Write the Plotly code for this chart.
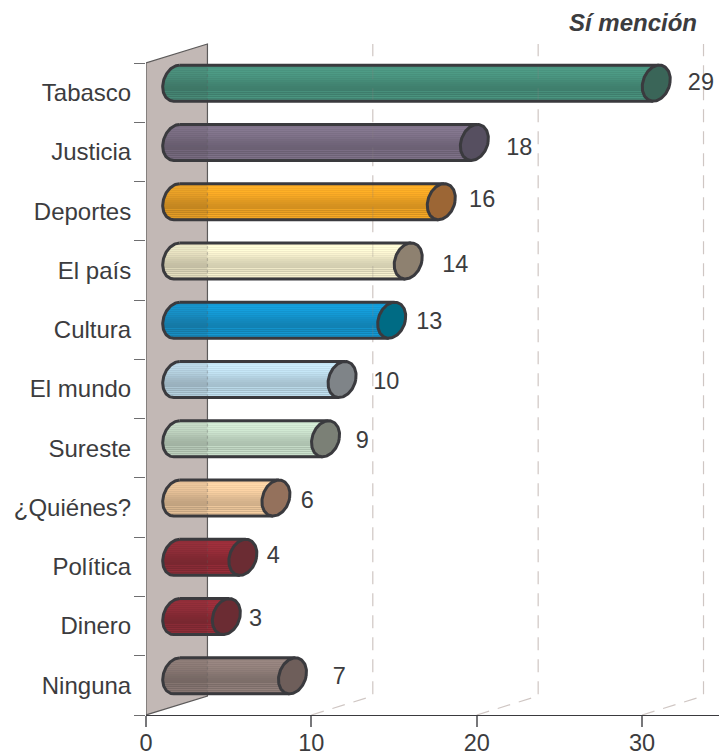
import math
import plotly.graph_objects as go

# ---- data (top to bottom) ----
categories = ["Tabasco", "Justicia", "Deportes", "El país", "Cultura", "El mundo",
              "Sureste", "¿Quiénes?", "Política", "Dinero", "Ninguna"]
values = [29, 18, 16, 14, 13, 10, 9, 6, 4, 3, 7]
body_colors = ["#4a9580", "#7f7289", "#f9aa25", "#f9f3d0", "#1499d4", "#c2e2f2",
               "#cde4cf", "#f7cfa2", "#982d39", "#982d39", "#93817c"]
cap_colors = ["#3a6558", "#564f60", "#9c6635", "#8e8170", "#006b84", "#7f8488",
              "#7b8076", "#94715c", "#6b2c33", "#6b2c33", "#6e5e5a"]
label_dx = [4.56, 4.57, 4.33, 4.70, 4.13, 4.53, 4.08, 3.76, 3.70, 3.62, 4.69]
label_y = [10.64, 9.555, 8.665, 7.565, 6.605, 5.605, 4.60, 3.595, 2.66, 1.595, 0.615]
x_ticks = [0, 10, 20, 30]
title_text = "Sí mención"

# brightness across the cylinder, top to bottom, read from the streaks
shade = [0.94, 0.97, 1.00, 1.02, 1.05, 0.99, 1.05, 0.98, 1.04, 0.97, 1.02, 0.96,
         1.00, 0.94, 0.97, 0.92, 0.93, 0.90, 0.90, 0.88, 0.88, 0.86, 0.86, 0.85,
         0.85, 0.84, 0.96, 0.84, 0.94, 0.84, 0.98, 0.86, 1.00, 0.88, 0.98, 0.86]

# ---- geometry in pixels -> axis units ----
W, H = 719, 754
X0, Y0 = 145.5, 715
PX_X = 16.55        # px per value unit
PX_Y = 652 / 11     # px per row
TOP = 20
DEPTH_X = 61.5 / PX_X
DEPTH_Y = 19 / PX_Y
HALF_H = 18 / PX_Y
A = 13.7 / PX_X
TILT = 3 / PX_X
INK = "#3a3a3e"
TXT = "#3c3c3e"
WALL = "#c2b8b5"
GRID = "#cfc6c3"
FONT = "Liberation Sans"
FS = 23.5
n = len(categories)


def scale(hex_color, m):
    r, g, b = (int(hex_color[i:i + 2], 16) for i in (1, 3, 5))
    return "rgb({},{},{})".format(*(min(255, round(c * m)) for c in (r, g, b)))


shapes = [dict(type="path", layer="below", xref="x", yref="y",
               path=f"M0,0 L{DEPTH_X},{DEPTH_Y} L{DEPTH_X},{n + DEPTH_Y} L0,{n} Z",
               fillcolor=WALL, line=dict(color="#5c5a5a", width=1.2))]
for v in x_ticks[1:]:
    shapes.append(dict(type="path", layer="below", xref="x", yref="y",
                       path=f"M{v},0 L{v + DEPTH_X},{DEPTH_Y} L{v + DEPTH_X},{n + DEPTH_Y}",
                       line=dict(color=GRID, width=1.2, dash="13px,9px")))

fig = go.Figure()

# cylinder bodies: one thin bar per streak
rows = [n - 1 - i + 0.5 + DEPTH_Y / 2 for i in range(n)]
for val, cy, col in zip(values, rows, body_colors):
    cx0 = DEPTH_X / 2
    cx1 = val + DEPTH_X / 2
    m = len(shade)
    ys, bases, lens, cols = [], [], [], []
    for k in range(m):
        t = 1 - (2 * k + 1) / m      # +1 at top
        left = cx0 - A * math.sqrt(1 - t * t) + TILT * t
        right = cx1 + TILT * t
        ys.append(cy + t * HALF_H)
        bases.append(left)
        lens.append(right - left)
        cols.append(scale(col, shade[k]))
    fig.add_trace(go.Bar(orientation="h", y=ys, x=lens, base=bases,
                         width=2 * HALF_H / m, marker=dict(color=cols, line=dict(width=0)),
                         hoverinfo="skip", showlegend=False))

# the part of each cylinder lying over the wall is a little darker;
# wall edge and gridlines show faintly through the cylinders
edge_y, grid_x, grid_y = [], [], []
for val, cy in zip(values, rows):
    sx, sy = [], []
    for d in range(90, 271, 5):
        r = math.radians(d)
        sx.append(DEPTH_X / 2 + A * math.cos(r) + TILT * math.sin(r))
        sy.append(cy + HALF_H * math.sin(r))
    sx += [DEPTH_X, DEPTH_X, sx[0]]
    sy += [cy - HALF_H, cy + HALF_H, sy[0]]
    fig.add_trace(go.Scatter(x=sx, y=sy, mode="lines", fill="toself",
                             fillcolor="rgba(60,50,50,0.10)", line=dict(width=0),
                             hoverinfo="skip", showlegend=False))
    edge_y += [cy - HALF_H, cy + HALF_H, None]
    for v in x_ticks[1:]:
        if v + DEPTH_X < val + DEPTH_X / 2:
            grid_x += [v + DEPTH_X, v + DEPTH_X, None]
            grid_y += [cy - HALF_H, cy + HALF_H, None]
fig.add_trace(go.Scatter(x=[DEPTH_X if e is not None else None for e in edge_y], y=edge_y,
                         mode="lines", line=dict(color="#5c5a5a", width=1.2, dash="3px,3px"),
                         opacity=0.3, hoverinfo="skip", showlegend=False))
fig.add_trace(go.Scatter(x=grid_x, y=grid_y, mode="lines",
                         line=dict(color="#8a8280", width=1.2, dash="13px,9px"), opacity=0.25,
                         hoverinfo="skip", showlegend=False))

# outlines and end caps
for val, cy, cap in zip(values, rows, cap_colors):
    cx0 = DEPTH_X / 2
    cx1 = val + DEPTH_X / 2
    steps = [a * 3 for a in range(0, 121)]
    ox, oy = [], []
    for d in [a for a in steps if 90 <= a <= 270]:
        r = math.radians(d)
        ox.append(cx0 + A * math.cos(r) + TILT * math.sin(r))
        oy.append(cy + HALF_H * math.sin(r))
    ox += [cx1 - TILT, None, cx1 + TILT, cx0 + TILT]
    oy += [cy - HALF_H, None, cy + HALF_H, cy + HALF_H]
    fig.add_trace(go.Scatter(x=ox, y=oy, mode="lines", line=dict(color=INK, width=3),
                             hoverinfo="skip", showlegend=False))
    ex = [cx1 + A * math.cos(math.radians(a)) + TILT * math.sin(math.radians(a)) for a in steps]
    ey = [cy + HALF_H * math.sin(math.radians(a)) for a in steps]
    fig.add_trace(go.Scatter(x=ex, y=ey, mode="lines", fill="toself", fillcolor=cap,
                             line=dict(color=INK, width=3), hoverinfo="skip", showlegend=False))

# value labels
fig.add_trace(go.Scatter(x=[v + d for v, d in zip(values, label_dx)], y=label_y,
                         mode="text", text=[str(v) for v in values], textposition="middle center",
                         textfont=dict(family=FONT, size=FS, color=TXT),
                         cliponaxis=False, hoverinfo="skip", showlegend=False))

fig.update_layout(
    width=W, height=H, autosize=False,
    margin=dict(l=X0, r=0, t=TOP, b=H - Y0, pad=0),
    paper_bgcolor="white", plot_bgcolor="white", barmode="overlay", bargap=0,
    font=dict(family=FONT, size=FS, color=TXT),
    xaxis=dict(range=[0, (W - X0) / PX_X], tickvals=x_ticks, ticks="outside", ticklen=11,
               tickwidth=1.5, tickcolor="#77777a", showline=True, linecolor=INK, linewidth=1.3,
               automargin=False, ticklabelstandoff=-4,
               showgrid=False, zeroline=False, tickfont=dict(family=FONT, size=FS, color=TXT)),
    yaxis=dict(range=[0, (Y0 - TOP) / PX_Y], tickvals=[i + 0.5 for i in range(n)],
               ticktext=categories[::-1], ticks="outside", ticklen=9, automargin=False,
               tickcolor="rgba(0,0,0,0)", showline=False, showgrid=False, zeroline=False,
               tickfont=dict(family=FONT, size=24, color=TXT),
               minor=dict(tickvals=list(range(n + 1)), ticks="outside", ticklen=11,
                          tickwidth=1.2, tickcolor="#6e6e70", showgrid=False)),
    shapes=shapes,
    annotations=[dict(text=title_text, xref="paper", yref="paper", xanchor="right", yanchor="middle",
                      x=(699 - X0) / (W - X0), y=(Y0 - 22) / (Y0 - TOP), showarrow=False,
                      font=dict(family=FONT, size=24, color=TXT, weight="bold", style="italic"))],
)

fig.write_html("out.html", config=dict(displayModeBar=False),
               post_script="document.body.style.margin='0';document.body.style.overflow='hidden';")
